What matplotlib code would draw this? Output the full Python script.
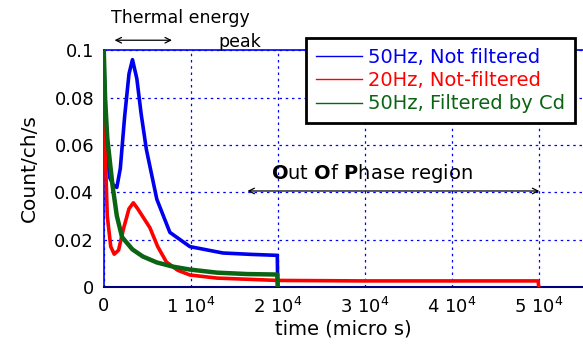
import numpy as np
import matplotlib
matplotlib.use('Agg')
import matplotlib.pyplot as plt

# 50Hz, not filtered
blue_t = [0, 150, 400, 700, 1100, 1500, 1900, 2400, 2900, 3300, 3800, 4300, 4900,
          6100, 7600, 9900, 13700, 17000, 19950, 20000]
blue_y = [0.1, 0.075, 0.055, 0.046, 0.043, 0.042, 0.05, 0.072, 0.09, 0.096, 0.088,
          0.073, 0.058, 0.037, 0.023, 0.017, 0.0143, 0.0137, 0.0133, 0]

# 20Hz, not filtered
red_t = [0, 150, 400, 800, 1200, 1700, 2300, 2900, 3400, 3900, 4600, 5300, 6200,
         7200, 8500, 9900, 13000, 20000, 30000, 40000, 49950, 50000]
red_y = [0.1, 0.06, 0.03, 0.017, 0.0138, 0.0155, 0.025, 0.033, 0.0355, 0.033, 0.029,
         0.025, 0.017, 0.0105, 0.007, 0.005, 0.0037, 0.0027, 0.0025, 0.0025, 0.0025, 0]

# 50Hz, filtered by Cd
green_t = [0, 150, 400, 700, 1000, 1500, 2100, 3300, 4500, 6100, 8000, 9900, 13000,
           16500, 19950, 20000]
green_y = [0.1, 0.08, 0.063, 0.053, 0.043, 0.03, 0.021, 0.0158, 0.0128, 0.0103, 0.0085,
           0.0073, 0.006, 0.0054, 0.0052, 0]

xticks = [0, 10000, 20000, 30000, 40000, 50000]
xlabels = ['0', r'1 10$^4$', r'2 10$^4$', r'3 10$^4$', r'4 10$^4$', r'5 10$^4$']
yticks = [0, 0.02, 0.04, 0.06, 0.08, 0.1]
ylabels = ['0', '0.02', '0.04', '0.06', '0.08', '0.1']

fig = plt.figure(figsize=(5.83, 3.46), dpi=100)
ax = fig.add_axes([0.178, 0.171, 0.822, 0.684])

ax.plot(blue_t, blue_y, color='#0000ee', lw=2.6, label='50Hz, Not filtered', zorder=3)
ax.plot(red_t, red_y, color='#ff0000', lw=2.6, label='20Hz, Not-filtered', zorder=3)
ax.plot(green_t, green_y, color='#0a6414', lw=3.2, label='50Hz, Filtered by Cd', zorder=3)

ax.set_xlim(0, 55100)
ax.set_ylim(0, 0.1)
ax.set_xticks(xticks)
ax.set_xticklabels(xlabels, fontsize=13)
ax.set_yticks(yticks)
ax.set_yticklabels(ylabels, fontsize=13)
ax.tick_params(length=0, pad=7)
ax.grid(True, color='#0000ff', linestyle=(0, (2, 3)), lw=0.9)

for s in ['top', 'left']:
    ax.spines[s].set_color('#0000ff')
    ax.spines[s].set_linewidth(1.2)
ax.spines['bottom'].set_color('#000080')
ax.spines['bottom'].set_linewidth(1.5)
ax.spines['right'].set_visible(False)

ax.set_xlabel('time (micro s)', fontsize=14, labelpad=2)
ax.set_ylabel('Count/ch/s', fontsize=14.5, labelpad=11)

ax.text(8850, 0.1135, 'Thermal energy', fontsize=12.5, ha='center', va='center', clip_on=False)
ax.text(15600, 0.1034, 'peak', fontsize=12.5, ha='center', va='center', clip_on=False)
ax.annotate('', xy=(920, 0.1042), xytext=(8160, 0.1042),
            arrowprops=dict(arrowstyle='<->', color='black', lw=0.9), annotation_clip=False)

ax.text(30800, 0.0477, r'$\mathbf{O}$ut $\mathbf{O}$f $\mathbf{P}$hase region', fontsize=14,
        ha='center', va='center')
ax.annotate('', xy=(16200, 0.0405), xytext=(50400, 0.0405),
            arrowprops=dict(arrowstyle='<->', color='black', lw=0.9))

leg = ax.legend(loc='upper left', bbox_to_anchor=(0.525, 0.89), bbox_transform=fig.transFigure,
                borderaxespad=0, fontsize=14, frameon=True, fancybox=False, framealpha=1,
                handlelength=2.4, labelspacing=0.22, borderpad=0.5, handletextpad=0.3)
leg.get_frame().set_edgecolor('black')
leg.get_frame().set_linewidth(2)
for line in leg.get_lines():
    line.set_linewidth(1.0)
for txt, c in zip(leg.get_texts(), ['#0000ee', '#ff0000', '#0a6414']):
    txt.set_color(c)

fig.savefig('out.png', dpi=100)
